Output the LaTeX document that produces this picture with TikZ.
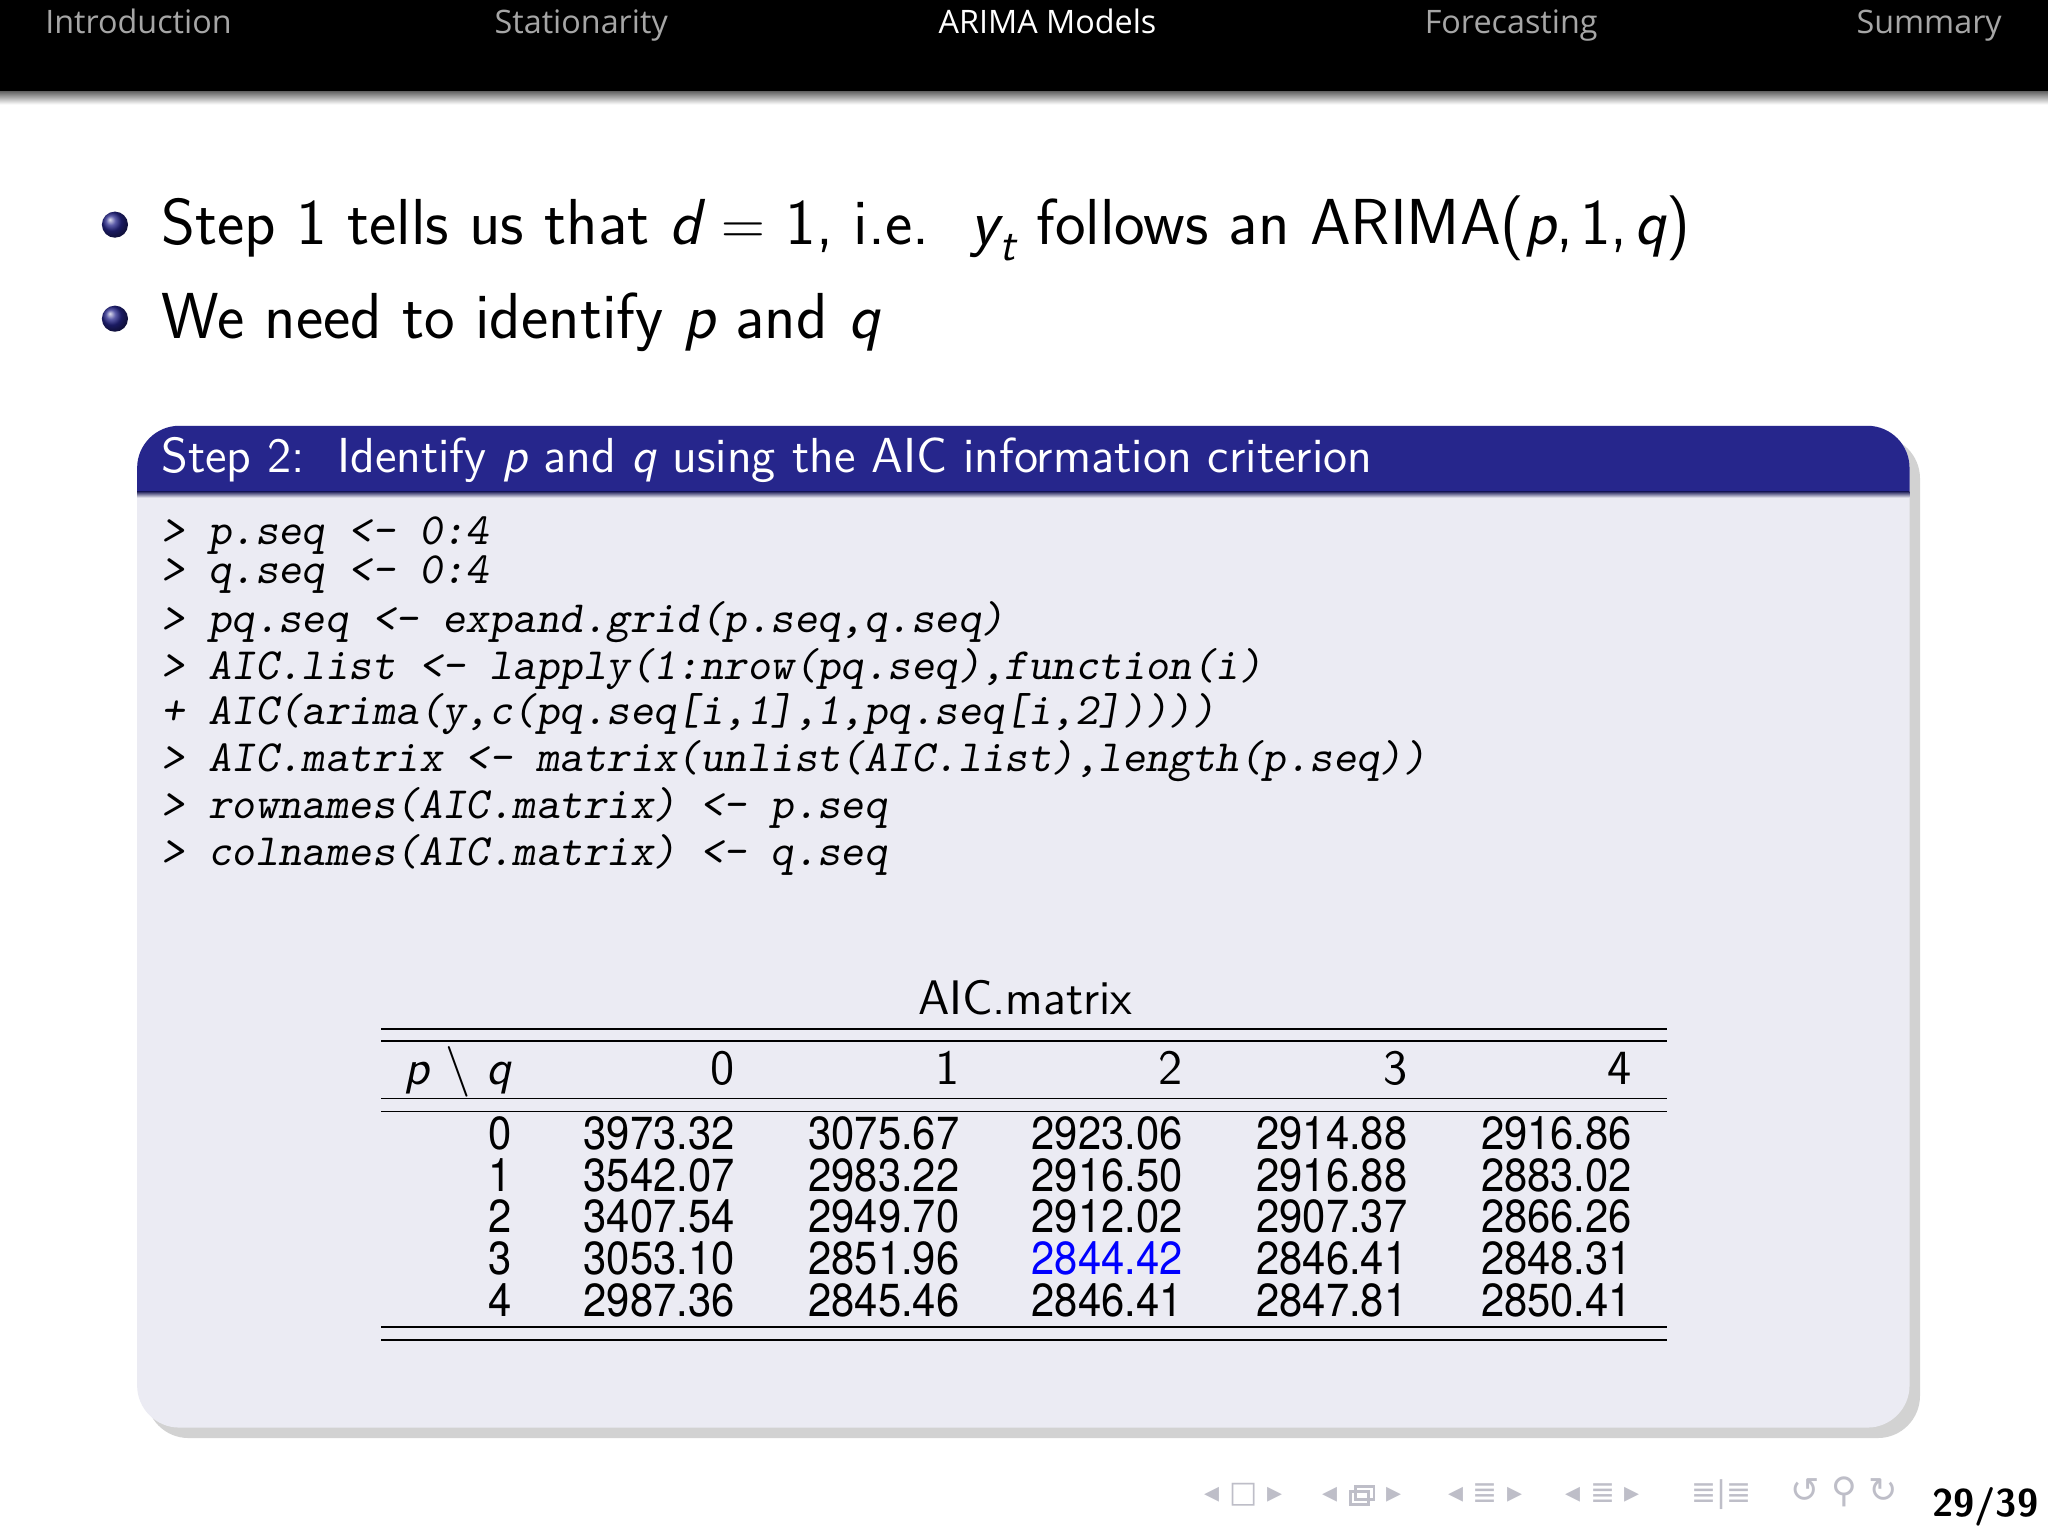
\documentclass[tikz,border=0pt]{standalone}
\usepackage{fontspec}
\newfontfamily\heros[FakeStretch=0.9]{TeX Gyre Heros}
\newfontfamily\hdr{Open Sans}
\newfontfamily\dvs{DejaVu Sans}
\usetikzlibrary{shadows}
\definecolor{bbar}{RGB}{38,38,140}
\definecolor{bbody}{RGB}{235,235,243}
\definecolor{navg}{RGB}{190,190,200}
\tikzset{
 hd/.style={anchor=base,text=gray!70,font=\hdr\fontsize{9.2}{11}\selectfont,inner sep=0},
 bl/.style={anchor=base west,inner sep=0,font=\sffamily\fontsize{18.5}{20}\selectfont},
 cd/.style={anchor=base west,inner sep=0,font=\ttfamily\slshape\fontsize{12.7}{14}\selectfont},
 num/.style={anchor=base east,inner sep=0,font=\heros\fontsize{13.2}{14}\selectfont},
 rl/.style={line width=0.5pt},
 nav/.style={anchor=base,inner sep=0,text=navg,font=\dvs\fontsize{8.5}{9}\selectfont}
}
\begin{document}
\begin{tikzpicture}[x=0.013061cm,y=-0.013061cm]
\useasboundingbox (0,0) rectangle (1568,1176);
\fill[white] (0,0) rectangle (1568,1176);
\fill[black] (0,0) rectangle (1568,70);
\shade[top color=black!60,bottom color=white] (0,70) rectangle (1568,80);
\node[hd] (h1) at (106,26) {Introduction};
\node[hd] (h2) at (445,26) {Stationarity};
\node[hd,text=white] (h3) at (802,26) {ARIMA Models};
\node[hd] (h4) at (1157,26) {Forecasting};
\node[hd] (h5) at (1477,26) {Summary};
% bullets
\shade[ball color=bbar] (88,172) circle (10);
\shade[ball color=bbar] (88,244) circle (10);
\node[bl] (b1) at (123,187) {Step 1 tells us that {\itshape d} $=$ 1, i.e.\ \ {\itshape y\kern0.5pt\raisebox{-0.25em}{\fontsize{13}{13}\selectfont t}} follows an ARIMA({\itshape p},\kern2pt1,\kern2pt{\itshape q})};
\node[bl] (b2) at (123,259) {We need to identify {\itshape p} and {\itshape q}};
% block
\fill[black!35,opacity=0.5,rounded corners=12] (112,334) rectangle (1470,1101);
\fill[bbody,rounded corners=12] (105,326) rectangle (1462,1093);
\fill[bbar,rounded corners=12] (105,376) -- (105,326) -- (1462,326) [sharp corners] -- (1462,376) -- cycle;
\shade[top color=bbar!60!black,bottom color=bbody] (105,376) rectangle (1462,381);
\node[bl,text=white,font=\sffamily\fontsize{14}{16}\selectfont] (t) at (123,362) {Step 2:\ \ Identify {\itshape p} and {\itshape q} using the AIC information criterion};
\node[cd] (c1) at (123,417) {> p.seq <- 0:4};
\node[cd] (c2) at (123,447) {> q.seq <- 0:4};
\node[cd] (c3) at (123,484) {> pq.seq <- expand.grid(p.seq,q.seq)};
\node[cd] (c4) at (123,520) {> AIC.list <- lapply(1:nrow(pq.seq),function(i)};
\node[cd] (c5) at (123,555) {+ AIC(arima(y,c(pq.seq[i,1],1,pq.seq[i,2]))))};
\node[cd] (c6) at (123,591) {> AIC.matrix <- matrix(unlist(AIC.list),length(p.seq))};
\node[cd] (c7) at (123,627) {> rownames(AIC.matrix) <- p.seq};
\node[cd] (c8) at (123,663) {> colnames(AIC.matrix) <- q.seq};
% table
\node[anchor=base,inner sep=0,font=\sffamily\fontsize{13.8}{16}\selectfont] (cap) at (785,777) {AIC.matrix};
\draw[rl] (292,788) -- (1276,788); \draw[rl] (292,797) -- (1276,797);
\draw[rl] (292,841) -- (1276,841); \draw[rl] (292,851) -- (1276,851);
\draw[rl] (292,1016) -- (1276,1016); \draw[rl] (292,1026) -- (1276,1026);
\node[num,font=\sffamily\fontsize{14}{15}\selectfont] (pq) at (392,830) {{\itshape p} $\setminus$ {\itshape q}};
\foreach \c/\x in {0/563,1/735,2/906,3/1078,4/1250} \node[num,font=\sffamily\fontsize{14}{15}\selectfont] (hc\c) at (\x,830) {\c};
\foreach \r/\y/\a/\b/\cc/\d/\e in {0/880/3973.32/3075.67/2923.06/2914.88/2916.86,
 1/912/3542.07/2983.22/2916.50/2916.88/2883.02,
 2/944/3407.54/2949.70/2912.02/2907.37/2866.26,
 3/976/3053.10/2851.96/{\textcolor{blue}{2844.42}}/2846.41/2848.31,
 4/1008/2987.36/2845.46/2846.41/2847.81/2850.41}{
 \node[num] (r\r) at (392,\y) {\r};
 \node[num] (r\r a) at (563,\y) {\a};
 \node[num] (r\r b) at (735,\y) {\b};
 \node[num] (r\r c) at (906,\y) {\cc};
 \node[num] (r\r d) at (1078,\y) {\d};
 \node[num] (r\r e) at (1250,\y) {\e};
}
% navigation
\node[nav] (n1) at (952,1150) {◂ □ ▸};
\node[nav] (n2) at (1043,1150) {◂\hspace{14pt}▸};
\draw[navg,line width=0.8pt] (1038,1138) rectangle (1052,1148) (1034,1142) rectangle (1048,1152);
\node[nav] (n3) at (1137,1150) {◂ ≣ ▸};
\node[nav] (n4) at (1227,1150) {◂ ≣ ▸};
\node[nav] (n5) at (1318,1150) {≣|≣};
\node[nav,font=\dvs\fontsize{10}{11}\selectfont] (n6) at (1412,1150) {↺ ⚲ ↻};
\node[anchor=base,inner sep=0,font=\sffamily\bfseries\fontsize{11}{12}\selectfont] (pg) at (1520,1161) {29/39};
\end{tikzpicture}
\end{document}
